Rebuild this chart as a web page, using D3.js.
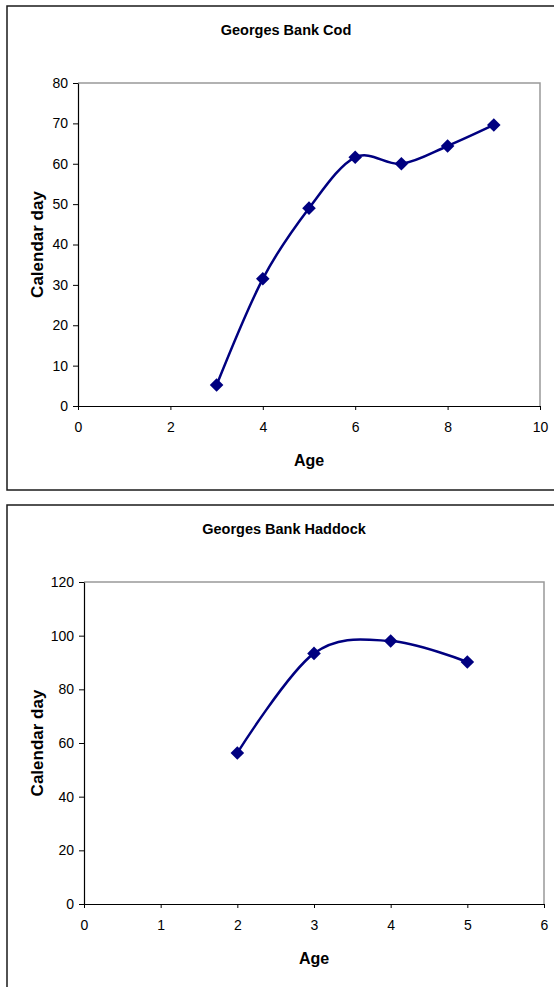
<!DOCTYPE html>
<html>
<head>
<meta charset="utf-8">
<script src="https://cdn.jsdelivr.net/npm/d3@7"></script>
<style>
  body { margin: 0; background: white; }
  svg text { font-family: "Liberation Sans", Arial, sans-serif; fill: #000; }
  .tick text { font-size: 14px; }
</style>
</head>
<body>
<div id="chart"></div>
<script>
// Georges Bank Cod
const codAges = [3, 4, 5, 6, 7, 8, 9];
const codDays = [5.2, 31.5, 49, 61.6, 60, 64.4, 69.6];
const codXTicks = [0, 2, 4, 6, 8, 10];
const codYTicks = [0, 10, 20, 30, 40, 50, 60, 70, 80];

// Georges Bank Haddock
const hadAges = [2, 3, 4, 5];
const hadDays = [56.3, 93.4, 98, 90.2];
const hadXTicks = [0, 1, 2, 3, 4, 5, 6];
const hadYTicks = [0, 20, 40, 60, 80, 100, 120];

const svg = d3.select("#chart")
    .append("svg")
    .attr("width", 554)
    .attr("height", 987);

function drawPanel(opt) {
    const g = svg.append("g");

    // outer chart frame (right side runs off the page)
    g.append("rect")
        .attr("x", opt.frame.x)
        .attr("y", opt.frame.y)
        .attr("width", opt.frame.w)
        .attr("height", opt.frame.h)
        .attr("fill", "white")
        .attr("stroke", "#1a1a1a")
        .attr("stroke-width", 1.5);

    const x = d3.scaleLinear()
        .domain(opt.xDomain)
        .range([opt.plot.left, opt.plot.right]);

    const y = d3.scaleLinear()
        .domain(opt.yDomain)
        .range([opt.plot.bottom, opt.plot.top]);

    // top and right sides of plot area
    g.append("path")
        .attr("d", `M${opt.plot.left},${opt.plot.top}H${opt.plot.right}V${opt.plot.bottom}`)
        .attr("fill", "none")
        .attr("stroke", "#999")
        .attr("stroke-width", 1.5);

    const xAxis = g.append("g")
        .attr("transform", `translate(0,${opt.plot.bottom})`)
        .call(d3.axisBottom(x).tickValues(opt.xTicks).tickFormat(d3.format("d"))
            .tickSize(4).tickPadding(12).tickSizeOuter(0));

    const yAxis = g.append("g")
        .attr("transform", `translate(${opt.plot.left},0)`)
        .call(d3.axisLeft(y).tickValues(opt.yTicks).tickFormat(d3.format("d"))
            .tickSize(5).tickPadding(5).tickSizeOuter(0));

    [xAxis, yAxis].forEach(a => {
        a.attr("font-size", 14).attr("font-family", null);
        a.select(".domain").attr("stroke", "#000").attr("stroke-width", 1.2);
        a.selectAll(".tick line").attr("stroke", "#000");
        a.selectAll(".tick text").attr("fill", "#000");
    });

    const pts = opt.ages.map((a, i) => ({ age: a, day: opt.days[i] }));

    const line = d3.line()
        .x(d => x(d.age))
        .y(d => y(d.day))
        .curve(d3.curveCatmullRom.alpha(0));

    g.append("path")
        .datum(pts)
        .attr("d", line)
        .attr("fill", "none")
        .attr("stroke", "#000080")
        .attr("stroke-width", 2.5);

    g.selectAll(".pt")
        .data(pts)
        .enter().append("rect")
        .attr("class", "pt")
        .attr("x", -4.8)
        .attr("y", -4.8)
        .attr("width", 9.6)
        .attr("height", 9.6)
        .attr("fill", "#000080")
        .attr("transform", d => `translate(${x(d.age)},${y(d.day)}) rotate(45)`);

    g.append("text")
        .attr("x", opt.titleX)
        .attr("y", opt.titleY)
        .attr("text-anchor", "middle")
        .style("font-size", "14.5px")
        .style("font-weight", "bold")
        .text(opt.title);

    g.append("text")
        .attr("x", (opt.plot.left + opt.plot.right) / 2)
        .attr("y", opt.plot.bottom + 60)
        .attr("text-anchor", "middle")
        .style("font-size", "16px")
        .style("font-weight", "bold")
        .text("Age");

    g.append("text")
        .attr("transform", `translate(${opt.yLabelX},${(opt.plot.top + opt.plot.bottom) / 2}) rotate(-90)`)
        .attr("text-anchor", "middle")
        .style("font-size", "17px")
        .style("font-weight", "bold")
        .text("Calendar day");
}

drawPanel({
    frame: { x: 7, y: 6, w: 560, h: 484 },
    plot: { left: 78, right: 540, top: 83, bottom: 406 },
    xDomain: [0, 10], yDomain: [0, 80],
    xTicks: codXTicks, yTicks: codYTicks,
    ages: codAges, days: codDays,
    title: "Georges Bank Cod", titleX: 286, titleY: 35,
    yLabelX: 43
});

drawPanel({
    frame: { x: 7, y: 505, w: 560, h: 500 },
    plot: { left: 84, right: 544, top: 582, bottom: 904 },
    xDomain: [0, 6], yDomain: [0, 120],
    xTicks: hadXTicks, yTicks: hadYTicks,
    ages: hadAges, days: hadDays,
    title: "Georges Bank Haddock", titleX: 284, titleY: 534,
    yLabelX: 43
});
</script>
</body>
</html>
